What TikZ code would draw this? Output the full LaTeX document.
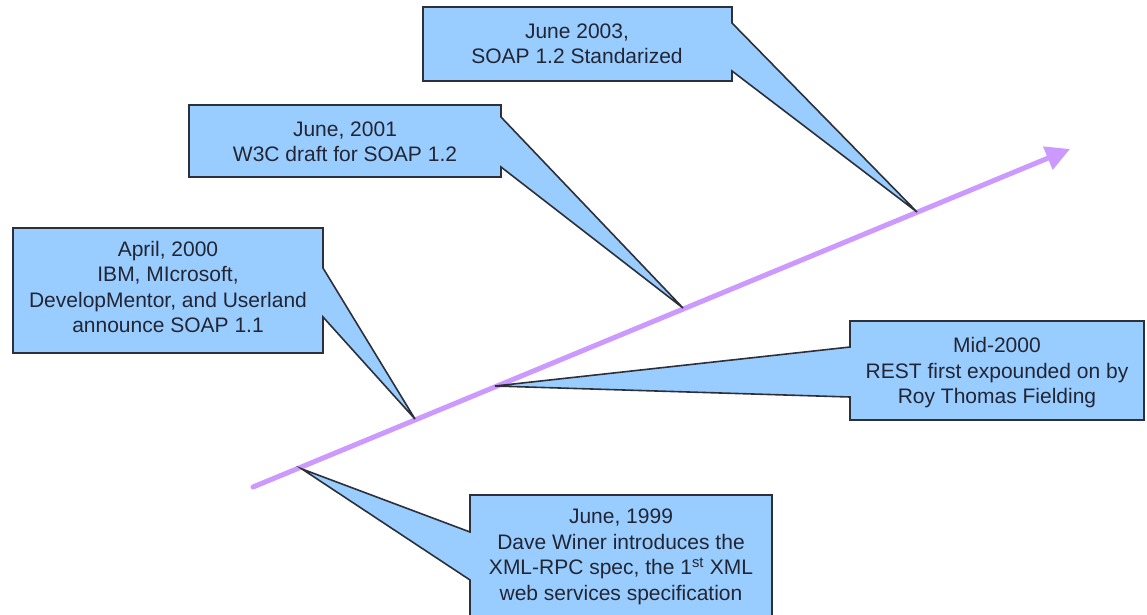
\documentclass[tikz,border=0pt]{standalone}
\usepackage{fontspec}
\setmainfont{Liberation Sans}
\usetikzlibrary{arrows.meta}
\definecolor{calloutfill}{RGB}{153,204,255}
\definecolor{calloutedge}{RGB}{45,48,56}
\definecolor{calloutink}{RGB}{34,38,52}
\definecolor{timelinecol}{RGB}{204,153,255}
\begin{document}
\begin{tikzpicture}[x=1pt,y=-1pt,
  callout/.style={fill=calloutfill,draw=calloutedge,line width=1.6pt,line join=miter},
  label/.style={align=center,text=calloutink,inner sep=0pt,
    font=\fontsize{21}{25.5}\selectfont},
  timeline/.style={draw=timelinecol,line width=5pt,line cap=round,
    -{Triangle[length=24pt,width=24pt]}}]
\useasboundingbox (0,0) rectangle (1147,614);
\clip (0,0) rectangle (1147,614);

% time axis
\coordinate (axisstart) at (253,487);
\coordinate (axisend) at (1070,149);
\draw[timeline] (axisstart) -- (axisend);

% points on the axis where the callouts meet it
\coordinate (p1999) at (302,469);
\coordinate (p2000a) at (415,419);
\coordinate (p2000m) at (495,386);
\coordinate (p2001) at (683,308);
\coordinate (p2003) at (917,212);

% June 2003
\path[callout] (423,7) -- (732,7) -- (732,23) -- (p2003) -- (732,71)
  -- (732,81) -- (423,81) -- cycle;
\node[label] (soap12) at (577,44) {June 2003,\\SOAP 1.2 Standarized};

% June 2001
\path[callout] (189,105) -- (501,105) -- (501,117) -- (p2001) -- (501,167)
  -- (501,177) -- (189,177) -- cycle;
\node[label] (w3cdraft) at (345,142) {June, 2001\\W3C draft for SOAP 1.2};

% April 2000
\path[callout] (13,228) -- (323,228) -- (323,268) -- (p2000a) -- (323,317)
  -- (323,353) -- (13,353) -- cycle;
\node[label] (soap11) at (168,287) {April, 2000\\IBM, MIcrosoft,\\DevelopMentor, and Userland\\announce SOAP 1.1};

% Mid-2000
\path[callout] (850,321) -- (1144,321) -- (1144,420) -- (850,420) -- (850,397)
  -- (p2000m) -- (850,347) -- cycle;
\node[label] (rest) at (997,373) {Mid-2000\\REST first expounded on by\\Roy Thomas Fielding};

% June 1999
\path[callout] (470,495) -- (772,495) -- (772,640) -- (470,640) -- (470,580)
  -- (p1999) -- (470,532) -- cycle;
\node[label] (xmlrpc) at (621,557) {June, 1999\\Dave Winer introduces the\\XML-RPC spec, the 1\textsuperscript{st} XML\\web services specification};
\end{tikzpicture}
\end{document}
